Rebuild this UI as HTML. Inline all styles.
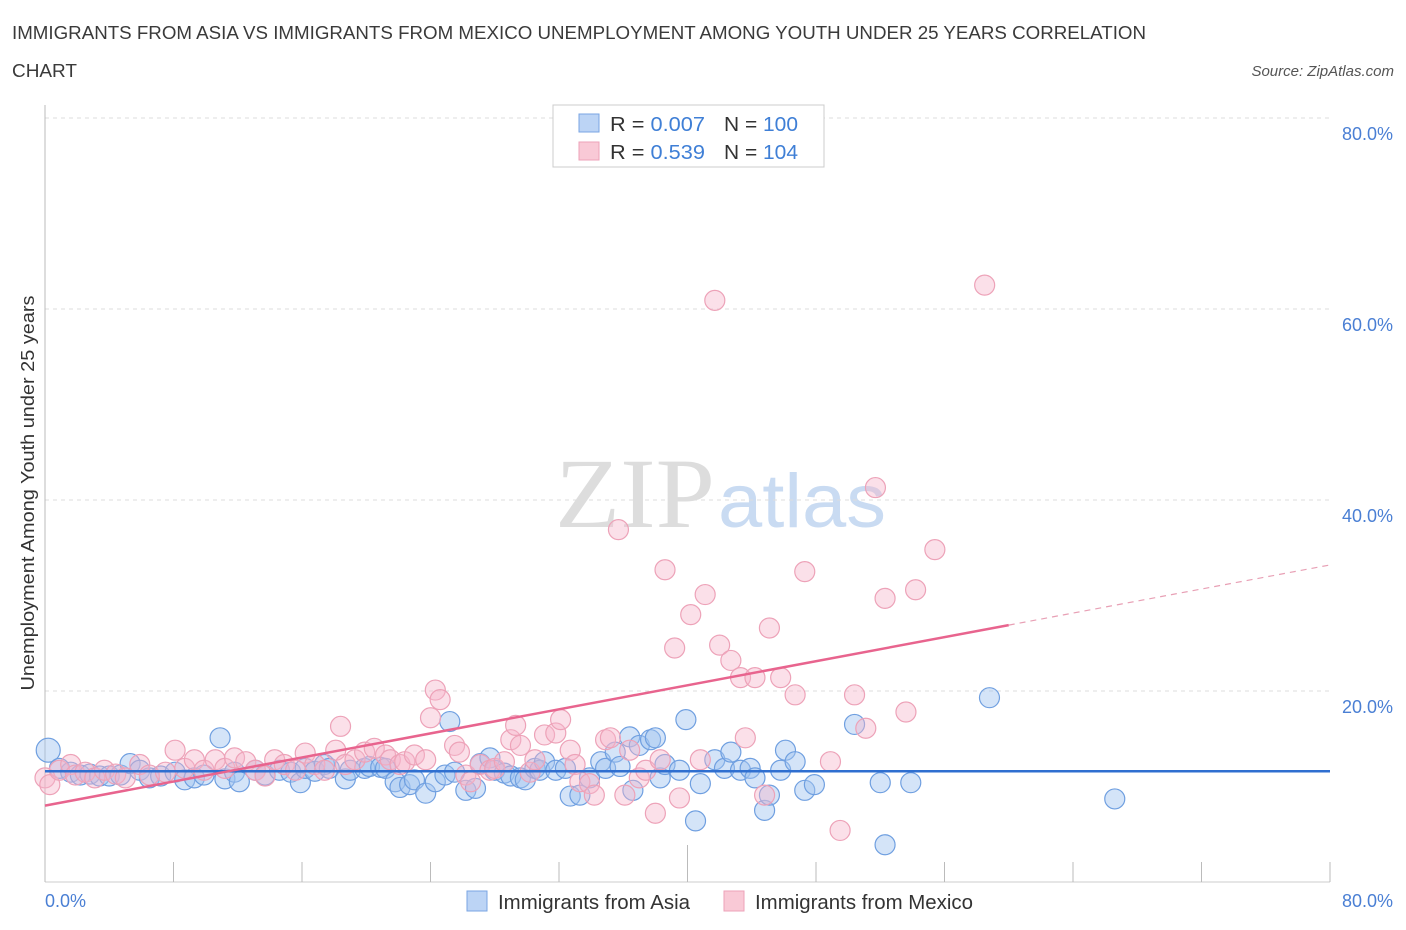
<!DOCTYPE html>
<html><head><meta charset="utf-8"><style>
body{margin:0;background:#fff;font-family:"Liberation Sans",sans-serif}
svg{display:block}
</style></head><body>
<svg width="1406" height="930">
<text x="12" y="39" font-size="18" fill="#3a3a3a" textLength="1134" lengthAdjust="spacingAndGlyphs">IMMIGRANTS FROM ASIA VS IMMIGRANTS FROM MEXICO UNEMPLOYMENT AMONG YOUTH UNDER 25 YEARS CORRELATION</text>
<text x="12" y="77" font-size="18" fill="#3a3a3a" textLength="65" lengthAdjust="spacingAndGlyphs">CHART</text>
<text x="1394" y="76" font-size="15" font-style="italic" fill="#555" text-anchor="end">Source: ZipAtlas.com</text>
<text x="555" y="527" font-size="100" font-family="Liberation Serif,serif" fill="#ddd" textLength="160" lengthAdjust="spacingAndGlyphs">ZIP</text>
<text x="718" y="527" font-size="76" fill="#c9dbf2" textLength="168" lengthAdjust="spacingAndGlyphs">atlas</text>
<g id="grid"></g><g id="axes"></g><g id="pts"></g><g id="lines"></g>
<text transform="translate(34,493) rotate(-90)" font-size="18" fill="#333" text-anchor="middle" textLength="395" lengthAdjust="spacingAndGlyphs">Unemployment Among Youth under 25 years</text>
<text x="45" y="907" font-size="18" fill="#4a7fd4">0.0%</text>
<text x="1393" y="907" font-size="18" fill="#4a7fd4" text-anchor="end">80.0%</text>
<g>
<rect x="553" y="105" width="271" height="62" fill="#fff" stroke="#ccc"/>
<rect x="579" y="114" width="20" height="18" fill="#bcd4f5" stroke="#7aa5e3"/>
<rect x="579" y="142" width="20" height="18" fill="#f9c9d6" stroke="#eda2b8"/>
<text x="610" y="131" font-size="20" fill="#333" textLength="95" lengthAdjust="spacingAndGlyphs">R = <tspan fill="#3f7fd6">0.007</tspan></text>
<text x="724" y="131" font-size="20" fill="#333" textLength="74" lengthAdjust="spacingAndGlyphs">N = <tspan fill="#3f7fd6">100</tspan></text>
<text x="610" y="159" font-size="20" fill="#333" textLength="95" lengthAdjust="spacingAndGlyphs">R =  <tspan fill="#3f7fd6">0.539</tspan></text>
<text x="724" y="159" font-size="20" fill="#333" textLength="74" lengthAdjust="spacingAndGlyphs">N = <tspan fill="#3f7fd6">104</tspan></text>
</g>
<g>
<rect x="467" y="891" width="20" height="20" fill="#bcd4f5" stroke="#7aa5e3"/>
<text x="498" y="909" font-size="20" fill="#333" textLength="192" lengthAdjust="spacingAndGlyphs">Immigrants from Asia</text>
<rect x="724" y="891" width="20" height="20" fill="#f9c9d6" stroke="#eda2b8"/>
<text x="755" y="909" font-size="20" fill="#333" textLength="218" lengthAdjust="spacingAndGlyphs">Immigrants from Mexico</text>
</g>
</svg>
<script>
const yTicks=[20,40,60,80];
const yTickLabels=["20.0%","40.0%","60.0%","80.0%"];
const xTicks=[0,8,16,24,32,40,48,56,64,72,80];
const asiaPoints=[[0.2,13.8],[0.9,11.9],[1.6,11.5],[2.2,11.2],[2.8,11.3],[3.4,11.1],[4.0,11.1],[4.7,11.2],[5.3,12.4],[5.9,11.7],[6.5,10.9],[7.2,11.1],[8.1,11.5],[8.7,10.7],[9.3,10.9],[9.9,11.2],[10.9,15.1],[11.2,10.8],[11.8,11.5],[12.1,10.5],[13.1,11.7],[13.7,11.2],[14.6,11.7],[15.3,11.5],[15.9,10.4],[16.2,11.9],[16.8,11.6],[17.4,12.3],[17.7,11.9],[18.7,10.8],[19.0,11.7],[19.9,11.9],[20.2,12.1],[20.9,12.0],[21.2,11.9],[21.8,10.5],[22.1,9.9],[22.7,10.2],[23.0,10.7],[23.7,9.3],[24.3,10.5],[24.9,11.2],[25.2,16.8],[25.5,11.5],[26.2,9.6],[26.8,9.8],[27.1,12.4],[27.7,13.0],[28.0,11.7],[28.6,11.4],[29.0,11.1],[29.6,10.9],[29.9,10.7],[30.5,11.9],[30.8,11.7],[31.1,12.6],[31.8,11.7],[32.4,11.9],[32.7,9.0],[33.3,9.1],[33.9,10.9],[34.6,12.6],[34.9,11.9],[35.5,13.6],[35.8,12.1],[36.4,15.2],[36.6,9.6],[37.0,14.3],[37.7,14.9],[38.0,15.1],[38.3,10.9],[38.6,12.3],[39.5,11.7],[39.9,17.0],[40.5,6.4],[40.8,10.3],[41.7,12.8],[42.3,11.9],[42.7,13.6],[43.3,11.7],[43.9,11.9],[44.2,10.9],[44.8,7.5],[45.1,9.1],[45.8,11.7],[46.1,13.8],[46.7,12.6],[47.3,9.6],[47.9,10.2],[50.4,16.5],[52.0,10.4],[52.3,3.9],[53.9,10.4],[58.8,19.3],[66.6,8.7]];
const mexicoPoints=[[0,10.9],[0.3,10.2],[0.9,11.7],[1.6,12.3],[1.9,11.2],[2.5,11.5],[3.1,10.9],[3.7,11.7],[4.4,11.3],[5.0,10.9],[5.9,12.3],[6.5,11.2],[7.5,11.5],[8.1,13.8],[8.7,11.9],[9.3,12.8],[9.9,11.7],[10.6,12.8],[11.2,11.9],[11.8,13.0],[12.5,12.6],[13.1,11.7],[13.7,11.1],[14.3,12.8],[14.9,12.3],[15.6,11.7],[16.2,13.5],[16.8,12.3],[17.4,11.7],[18.1,13.8],[18.4,16.3],[18.7,12.3],[19.3,12.8],[19.9,13.6],[20.5,14.0],[21.2,13.3],[21.5,12.8],[22.1,12.3],[22.4,12.6],[23.0,13.3],[23.7,12.8],[24.0,17.2],[24.3,20.1],[24.6,19.1],[25.5,14.3],[25.8,13.6],[26.2,11.2],[26.5,10.5],[27.1,12.3],[27.7,11.7],[28.0,11.9],[28.6,12.6],[29.0,14.9],[29.3,16.4],[29.6,14.3],[30.2,11.5],[30.5,12.8],[31.1,15.4],[31.8,15.6],[32.1,17.0],[32.7,13.8],[33.0,12.3],[33.3,10.5],[33.9,10.3],[34.2,9.1],[34.9,14.9],[35.2,15.1],[35.7,36.9],[36.1,9.1],[36.4,13.8],[37.0,10.9],[37.4,11.7],[38.0,7.2],[38.3,12.8],[38.6,32.7],[39.2,24.5],[39.5,8.8],[40.2,28.0],[40.8,12.8],[41.1,30.1],[41.7,60.9],[42.0,24.8],[42.7,23.2],[43.3,21.4],[43.6,15.1],[44.2,21.4],[44.8,9.1],[45.1,26.6],[45.8,21.4],[46.7,19.6],[47.3,32.5],[48.9,12.6],[49.5,5.4],[50.4,19.6],[51.1,16.1],[51.7,41.3],[52.3,29.7],[53.6,17.8],[54.2,30.6],[55.4,34.8],[58.5,62.5]];
const asiaTrend=[[0,11.6],[80,11.6]];
const mexicoTrend=[[0,8.0],[60,26.9],[80,33.2]];
const NS="http://www.w3.org/2000/svg";
const X=v=>45+v*(1285/80), Y=v=>882-v*(764/80);
function mk(t,a,p){const e=document.createElementNS(NS,t);for(const k in a)e.setAttribute(k,a[k]);p.appendChild(e);return e;}
const grid=document.getElementById('grid'),axes=document.getElementById('axes'),pts=document.getElementById('pts'),lines=document.getElementById('lines');
yTicks.forEach((t,i)=>{
 const l=mk('line',{x1:45,x2:1330,y1:Y(t),y2:Y(t),stroke:'#ddd','stroke-dasharray':'4,4'},grid);
 
 
 const tx=mk('text',{x:1393,y:Y(t)+22,'font-size':18,fill:'#4a7fd4','text-anchor':'end'},grid);
 tx.textContent=yTickLabels[i];
 
 
});
const ax=mk('line',{x1:45,x2:45,y1:105,y2:882,stroke:'#bbb'},axes);


const bx=mk('line',{x1:45,x2:1330,y1:882,y2:882,stroke:'#ccc'},axes);


xTicks.forEach(t=>{
 const tk=mk('line',{x1:X(t),x2:X(t),y1:882,y2:t===40?845:862,stroke:'#bbb'},axes);
 
 
});
asiaPoints.forEach((p,i)=>{
 const c=mk('circle',{cx:X(p[0]),cy:Y(p[1]),r:i===0?12:10,fill:'rgba(160,195,240,0.45)',stroke:'#6f9fe0','stroke-width':1.2},pts);
 
 
});
mexicoPoints.forEach(p=>{
 const c=mk('circle',{cx:X(p[0]),cy:Y(p[1]),r:10,fill:'rgba(246,182,202,0.42)',stroke:'#eda2b8','stroke-width':1.2},pts);
 
 
});
const al=mk('line',{x1:X(asiaTrend[0][0]),y1:Y(asiaTrend[0][1]),x2:X(asiaTrend[1][0]),y2:Y(asiaTrend[1][1]),stroke:'#2f6fd0','stroke-width':2.5},lines);


const ml=mk('line',{x1:X(mexicoTrend[0][0]),y1:Y(mexicoTrend[0][1]),x2:X(mexicoTrend[1][0]),y2:Y(mexicoTrend[1][1]),stroke:'#e8648e','stroke-width':2.5},lines);


const md=mk('line',{x1:X(mexicoTrend[1][0]),y1:Y(mexicoTrend[1][1]),x2:X(mexicoTrend[2][0]),y2:Y(mexicoTrend[2][1]),stroke:'#e8a0b5','stroke-width':1.2,'stroke-dasharray':'6,5'},lines);


</script>
</body></html>
